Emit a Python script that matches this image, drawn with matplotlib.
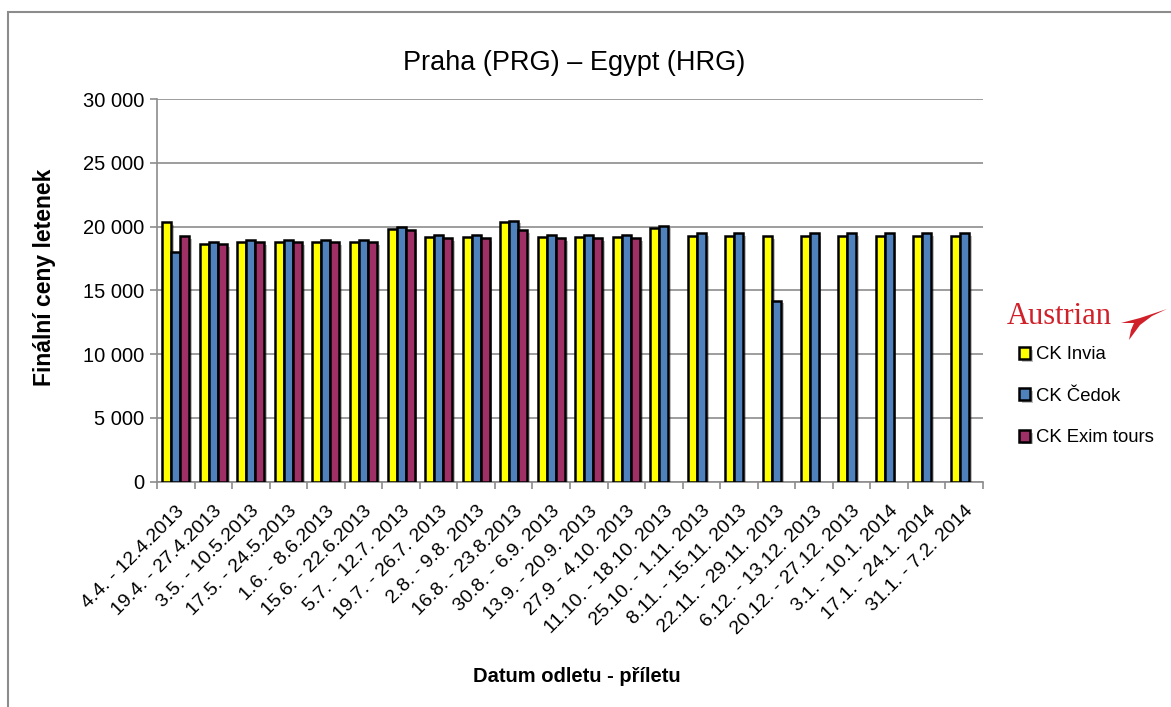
import numpy as np
import matplotlib
matplotlib.use("Agg")
import matplotlib.pyplot as plt
from matplotlib.patches import Rectangle, Polygon
import matplotlib.patheffects as pe
from matplotlib.ticker import FuncFormatter

plt.rcParams['font.family'] = ['Liberation Sans', 'DejaVu Sans']

categories = ["4.4. - 12.4.2013", "19.4. - 27.4.2013", "3.5. - 10.5.2013", "17.5. - 24.5.2013",
              "1.6. - 8.6.2013", "15.6. - 22.6.2013", "5.7. - 12.7. 2013", "19.7. - 26.7. 2013",
              "2.8. - 9.8. 2013", "16.8. - 23.8.2013", "30.8. - 6.9. 2013", "13.9. - 20.9. 2013",
              "27.9 - 4.10. 2013", "11.10. - 18.10. 2013", "25.10. - 1.11. 2013", "8.11. - 15.11. 2013",
              "22.11. - 29.11. 2013", "6.12. - 13.12. 2013", "20.12. - 27.12. 2013", "3.1. - 10.1. 2014",
              "17.1. - 24.1. 2014", "31.1. - 7.2. 2014"]

invia = [20390, 18640, 18800, 18800, 18800, 18800, 19800, 19190, 19190, 20390, 19190, 19190,
         19190, 19920, 19290, 19290, 19290, 19290, 19290, 19290, 19290, 19290]
cedok = [17990, 18800, 18930, 18930, 18930, 18930, 19950, 19350, 19350, 20470, 19350, 19350,
         19350, 20080, 19480, 19480, 14200, 19480, 19480, 19480, 19480, 19480]
exim = [19270, 18640, 18800, 18800, 18800, 18800, 19760, 19110, 19110, 19760, 19110, 19110,
        19110, np.nan, np.nan, np.nan, np.nan, np.nan, np.nan, np.nan, np.nan, np.nan]

series_names = ["CK Invia", "CK Čedok", "CK Exim tours"]
colors = ["#FFFF00", "#4F81BD", "#9E3066"]

W, H = 1171, 707
fig = plt.figure(figsize=(W / 100, H / 100), dpi=100)
ax = fig.add_axes([157 / W, 1 - 481.7 / H, (983 - 157) / W, (481.7 - 99.2) / H])

x = np.arange(len(categories))
bw = 0.24
shadow = [pe.SimplePatchShadow(offset=(2, -2), shadow_rgbFace='#000000', alpha=0.25), pe.Normal()]
handles = []
for i, (vals, c, name) in enumerate(zip([invia, cedok, exim], colors, series_names)):
    bars = ax.bar(x + (i - 1) * bw, vals, width=bw, color=c, edgecolor='black',
                  linewidth=1.8, label=name, zorder=3)
    for b in bars:
        b.set_path_effects(shadow)
    handles.append(bars)

ax.set_ylim(0, 30000)
ax.set_xlim(-0.5, len(categories) - 0.5)
ax.set_yticks(np.arange(0, 30001, 5000))
ax.yaxis.set_major_formatter(FuncFormatter(lambda v, p: f"{int(v):,}".replace(",", " ")))
ax.yaxis.grid(True, color='#8c8c8c', linewidth=1.2, zorder=0)
ax.set_axisbelow(True)

ax.set_xticks(np.arange(len(categories) + 1) - 0.5)
ax.set_xticklabels([])
ax.set_xticks(x, minor=True)
ax.set_xticklabels(categories, minor=True, rotation=45, ha='right', rotation_mode='anchor', fontsize=14)
ax.tick_params(axis='x', which='minor', length=0, pad=15)
ax.tick_params(axis='x', which='major', length=5, color='#8c8c8c', width=1.2)
ax.tick_params(axis='y', length=5, color='#8c8c8c', width=1.2, labelsize=14.5, pad=4)

for s in ['top', 'right']:
    ax.spines[s].set_visible(False)
for s in ['left', 'bottom']:
    ax.spines[s].set_color('#8c8c8c')
    ax.spines[s].set_linewidth(1.2)

fig.text(45 / W, 1 - 277 / H, "Finální ceny letenek", fontsize=16.5, fontweight='bold',
         rotation=90, ha='center', va='center')
fig.text(577 / W, 1 - 676 / H, "Datum odletu - příletu", fontsize=14.5, fontweight='bold',
         ha='center', va='center')
fig.text(574 / W, 1 - 63 / H, "Praha (PRG) – Egypt (HRG)", fontsize=19.5, ha='center', va='center')

leg = fig.legend(handles=handles, labels=series_names, loc='upper left',
                 bbox_to_anchor=(1012 / W, 1 - 339 / H), frameon=False, fontsize=13.3,
                 handlelength=0.6, handleheight=0.6, handletextpad=0.3, labelspacing=1.32,
                 borderaxespad=0)

# Austrian logo
fig.text(1007 / W, 1 - 316 / H, "Austrian", family=['Liberation Serif', 'DejaVu Serif'],
         color='#D0202A', fontsize=22, ha='left', va='center')
sw = [(1121, 323), (1140, 318), (1167, 309), (1152, 316), (1140, 325), (1129, 340),
      (1131, 330), (1134, 323)]
fig.patches.append(Polygon([(px / W, 1 - py / H) for px, py in sw], closed=True,
                           transform=fig.transFigure, facecolor='#D0202A', edgecolor='none'))

# outer frame
fig.patches.append(Rectangle((8 / W, -0.05), 1.2, 1 - 12 / H + 0.05, transform=fig.transFigure,
                             fill=False, edgecolor='#8c8c8c', linewidth=1.5))

fig.savefig("out.png", dpi=100)
